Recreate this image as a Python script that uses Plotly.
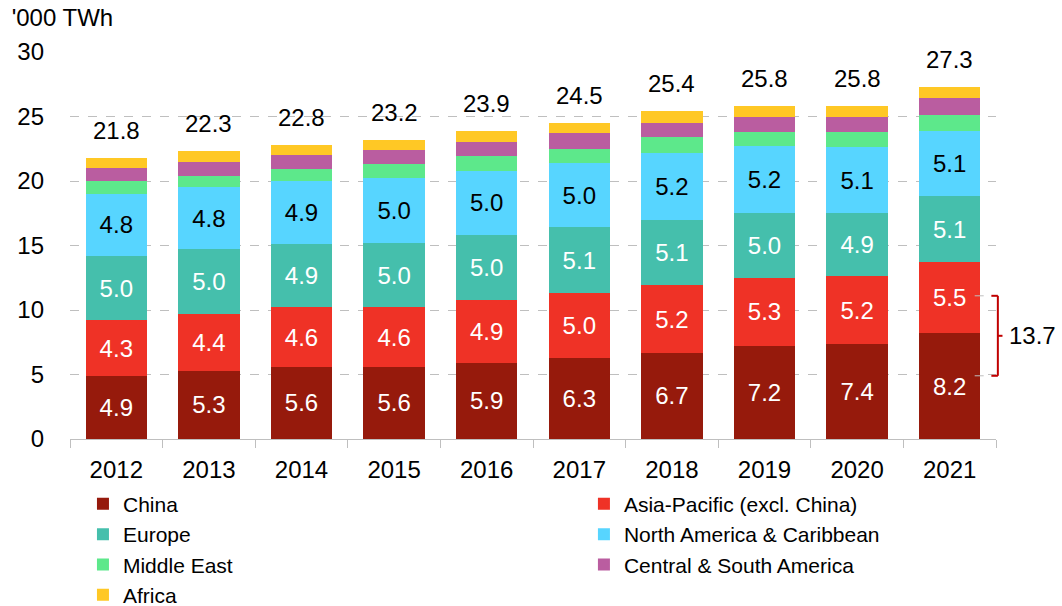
import plotly.graph_objects as go

# '000 TWh by region
years = ["2012", "2013", "2014", "2015", "2016", "2017", "2018", "2019", "2020", "2021"]
china = [4.9, 5.3, 5.6, 5.6, 5.9, 6.3, 6.7, 7.2, 7.4, 8.2]
asia_pacific = [4.3, 4.4, 4.6, 4.6, 4.9, 5.0, 5.2, 5.3, 5.2, 5.5]
europe = [5.0, 5.0, 4.9, 5.0, 5.0, 5.1, 5.1, 5.0, 4.9, 5.1]
north_america = [4.8, 4.8, 4.9, 5.0, 5.0, 5.0, 5.2, 5.2, 5.1, 5.1]
middle_east = [1.0, 0.9, 0.9, 1.1, 1.1, 1.1, 1.2, 1.1, 1.2, 1.2]
central_south = [1.0, 1.1, 1.1, 1.1, 1.1, 1.2, 1.1, 1.2, 1.2, 1.3]
africa = [0.8, 0.8, 0.8, 0.8, 0.9, 0.8, 0.9, 0.8, 0.8, 0.9]
totals = [21.8, 22.3, 22.8, 23.2, 23.9, 24.5, 25.4, 25.8, 25.8, 27.3]

# bracket on the right (China + Asia-Pacific in 2021)
bracket_label = "13.7"
bracket_lo, bracket_hi = 4.9, 11.1

FONT = "Arial, Liberation Sans, sans-serif"

# name, values, colour, label colour, which legend column
series = [
    ("China", china, "#961A0C", "white", "legend"),
    ("Asia-Pacific (excl. China)", asia_pacific, "#EF3226", "white", "legend2"),
    ("Europe", europe, "#45BFAC", "white", "legend"),
    ("North America & Caribbean", north_america, "#57D5FF", "black", "legend2"),
    ("Middle East", middle_east, "#5DE88B", None, "legend"),
    ("Central & South America", central_south, "#BA5DA0", None, "legend2"),
    ("Africa", africa, "#FFC825", None, "legend"),
]

fig = go.Figure()
for name, vals, col, txtcol, leg in series:
    fig.add_trace(go.Bar(
        x=years, y=vals, name=name, legend=leg,
        marker=dict(color=col, line=dict(width=0)),
        texttemplate="%{y:.1f}" if txtcol else None,
        textposition="inside" if txtcol else "none",
        insidetextanchor="middle",
        textangle=0,
        textfont=dict(color=txtcol or "black", size=24, family=FONT),
        hoverinfo="x+y+name",
    ))

# totals above bars (x given as category index)
for i, t in enumerate(totals):
    fig.add_annotation(x=i, y=t, text=f"{t:.1f}", showarrow=False,
                       yanchor="bottom", yshift=12,
                       font=dict(size=24, color="black", family=FONT))

# bracket
red = "#C00000"
xb = 1.002
fig.add_shape(type="line", xref="paper", yref="y", x0=xb, x1=xb, y0=bracket_lo, y1=bracket_hi,
              line=dict(color=red, width=2))
for yv in (bracket_lo, bracket_hi):
    fig.add_shape(type="line", xref="paper", yref="y", x0=xb - 0.007, x1=xb, y0=yv, y1=yv,
                  line=dict(color=red, width=2))
    fig.add_shape(type="line", xref="paper", yref="y", x0=0.977, x1=xb - 0.008, y0=yv, y1=yv,
                  line=dict(color="#BFBFBF", width=1, dash="dash"))
ym = (bracket_lo + bracket_hi) / 2
fig.add_shape(type="line", xref="paper", yref="y", x0=xb, x1=xb + 0.005, y0=ym, y1=ym,
              line=dict(color=red, width=2))
fig.add_annotation(xref="paper", yref="y", x=xb + 0.01, y=ym, text=bracket_label,
                   showarrow=False, xanchor="left",
                   font=dict(size=24, color="black", family=FONT))

legend_style = dict(orientation="v", traceorder="normal", yanchor="top", xanchor="left",
                    font=dict(size=21, color="black", family=FONT),
                    bgcolor="rgba(0,0,0,0)")

fig.update_layout(
    barmode="stack",
    bargap=0.335,
    width=1062, height=606,
    margin=dict(l=70, r=66, t=52, b=167, autoexpand=False),
    paper_bgcolor="white", plot_bgcolor="white",
    font=dict(family=FONT, size=24, color="black"),
    title=dict(text="'000 TWh", xref="container", yref="container",
               x=0.011, xanchor="left", y=1 - 18 / 606, yanchor="middle",
               font=dict(size=24, color="black", family=FONT)),
    legend=dict(x=0.014, y=-0.1155, **legend_style),
    legend2=dict(x=0.555, y=-0.1155, **legend_style),
)
fig.update_xaxes(type="category", showgrid=False, showline=True, linecolor="#BFBFBF",
                 linewidth=1, ticks="outside", tickson="boundaries", ticklen=8,
                 tickcolor="#BFBFBF", ticklabelstandoff=9,
                 tickfont=dict(size=24, color="black", family=FONT))
fig.update_yaxes(range=[0, 30], dtick=5, showgrid=True, gridcolor="#BFBFBF",
                 griddash="dash", gridwidth=1, zeroline=False, showline=False,
                 ticks="", ticklabelstandoff=25,
                 tickfont=dict(size=24, color="black", family=FONT))

fig.write_html("out.html", config={"displayModeBar": False},
               post_script="document.body.style.margin='0';")
